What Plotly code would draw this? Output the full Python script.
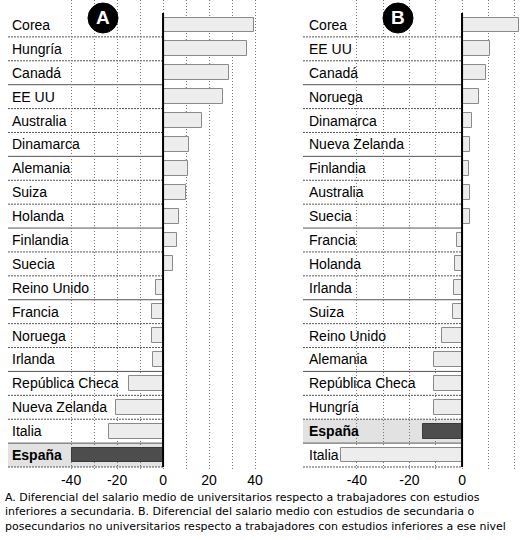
import plotly.graph_objects as go

# ---- data ----
countries_a = ["Corea", "Hungría", "Canadá", "EE UU", "Australia", "Dinamarca", "Alemania",
               "Suiza", "Holanda", "Finlandia", "Suecia", "Reino Unido", "Francia", "Noruega",
               "Irlanda", "República Checa", "Nueva Zelanda", "Italia", "España"]
values_a = [39.5, 36.5, 28.7, 26.0, 17.0, 11.3, 11.0, 10.0, 7.0, 6.0, 4.5, -3.0, -4.8, -4.8,
            -4.3, -14.8, -20.4, -23.5, -39.5]

countries_b = ["Corea", "EE UU", "Canadá", "Noruega", "Dinamarca", "Nueva Zelanda", "Finlandia",
               "Australia", "Suecia", "Francia", "Holanda", "Irlanda", "Suiza", "Reino Unido",
               "Alemania", "República Checa", "Hungría", "España", "Italia"]
values_b = [21.7, 10.6, 9.1, 6.5, 3.8, 3.0, 2.7, 3.0, 3.0, -1.9, -2.5, -3.0, -3.4, -7.6,
            -10.6, -10.6, -10.6, -14.8, -46.0]

ticks_a = [-40, -30, -20, -10, 0, 10, 20, 30, 40]
ticklabels_a = ["-40", "", "-20", "", "0", "", "20", "", "40"]
ticks_b = [-40, -30, -20, -10, 0, 10, 20]
ticklabels_b = ["-40", "", "-20", "", "0", "", "20"]

caption_lines = [
    "A. Diferencial del salario medio de universitarios respecto a trabajadores con estudios",
    "inferiores a secundaria. B. Diferencial del salario medio con estudios de secundaria o",
    "posecundarios no universitarios respecto a trabajadores con estudios inferiores a ese nivel",
]

HIGHLIGHT = "España"
FONT = "Liberation Sans, Arial, sans-serif"
CAP_FONT = "DejaVu Sans, sans-serif"
W, H = 522, 540

range_a = [-67.4, 43.0]
range_b = [-60.5, 22.8]
yrange = [18.625, -1.044]


def colors(names):
    return ["#4d4d4d" if n == HIGHLIGHT else "#ededed" for n in names]


def lines(names):
    return ["#3a3a3a" if n == HIGHLIGHT else "#8a8a8a" for n in names]


fig = go.Figure()
for names, vals, xa, ya in [(countries_a, values_a, "x", "y"), (countries_b, values_b, "x2", "y2")]:
    fig.add_trace(go.Bar(
        x=vals, y=list(range(len(names))), orientation="h", width=0.62,
        xaxis=xa, yaxis=ya, showlegend=False, hoverinfo="skip",
        marker=dict(color=colors(names), line=dict(color=lines(names), width=1)),
    ))

shapes = []
annotations = []
panels = [(countries_a, "x", "y", range_a, 10 / W), (countries_b, "x2", "y2", range_b, 307 / W)]
for names, xr, yr, rng, lab_x in panels:
    n = len(names)
    hi = names.index(HIGHLIGHT)
    # highlighted row background
    shapes.append(dict(type="rect", xref=xr, yref=yr, x0=rng[0], x1=0, y0=hi - 0.5, y1=hi + 0.5,
                       fillcolor="#e2e2e2", line=dict(width=0), layer="below"))
    # row separators
    for i in range(n):
        shapes.append(dict(type="line", xref=xr, yref=yr, x0=rng[0], x1=0, y0=i + 0.5, y1=i + 0.5,
                           line=dict(color="#555555", width=1,
                                     dash="solid" if i % 3 == 2 else "2px,1px"),
                           layer="below"))
    # zero line
    shapes.append(dict(type="line", xref=xr, yref=yr, x0=0, x1=0, y0=-0.5, y1=n - 0.5,
                       line=dict(color="black", width=2)))
    # labels
    for i, name in enumerate(names):
        txt = "<b>%s</b>" % name if name == HIGHLIGHT else name
        annotations.append(dict(text=txt, xref="paper", yref=yr, x=lab_x, y=i, xanchor="left",
                                yanchor="middle", showarrow=False,
                                font=dict(family=FONT, size=14, color="black")))

# badges
for letter, cx in [("A", 103), ("B", 398)]:
    cy = 18
    r = 15
    shapes.append(dict(type="circle", xref="paper", yref="paper",
                       x0=(cx - r) / W, x1=(cx + r) / W, y0=1 - (cy + r) / H, y1=1 - (cy - r) / H,
                       fillcolor="black", line=dict(color="black", width=1)))
    annotations.append(dict(text="<b>%s</b>" % letter, xref="paper", yref="paper", x=cx / W,
                            y=1 - cy / H, xanchor="center", yanchor="middle", showarrow=False,
                            font=dict(family=FONT, size=19, color="white")))

for k, line in enumerate(caption_lines):
    annotations.append(dict(text=line, xref="paper", yref="paper", x=3 / W,
                            y=1 - (497 + 14.5 * k) / H, xanchor="left", yanchor="middle",
                            align="left", showarrow=False,
                            font=dict(family=CAP_FONT, size=11, color="black")))

ydom = [1 - 470 / H, 1]
axis_common = dict(showgrid=True, gridcolor="#777777", griddash="1px,2px", gridwidth=1,
                   zeroline=False, showline=False, ticks="", fixedrange=True,
                   tickfont=dict(family=FONT, size=14, color="black"))
fig.update_layout(
    width=W, height=H, margin=dict(l=0, r=0, t=0, b=0),
    paper_bgcolor="white", plot_bgcolor="rgba(0,0,0,0)",
    barmode="overlay", bargap=0,
    xaxis=dict(domain=[8 / W, 262 / W], range=range_a, tickvals=ticks_a, ticktext=ticklabels_a,
               anchor="y", **axis_common),
    yaxis=dict(domain=ydom, range=yrange, showgrid=False, showticklabels=False, zeroline=False,
               anchor="x", fixedrange=True),
    xaxis2=dict(domain=[303 / W, 1], range=range_b, tickvals=ticks_b, ticktext=ticklabels_b,
                anchor="y2", **axis_common),
    yaxis2=dict(domain=ydom, range=yrange, showgrid=False, showticklabels=False, zeroline=False,
                anchor="x2", fixedrange=True),
    shapes=shapes, annotations=annotations,
)

fig.write_html("out.html", config={"displayModeBar": False},
               post_script="document.body.style.margin='0px';")
